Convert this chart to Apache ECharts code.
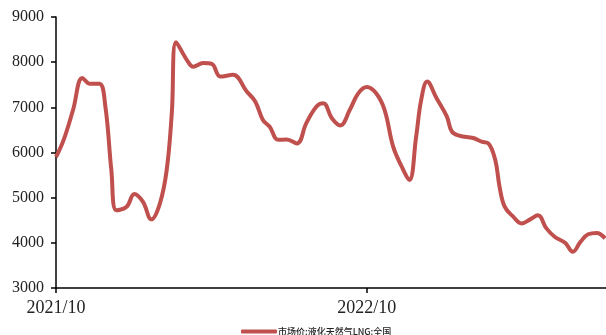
<!DOCTYPE html>
<html>
<head>
<meta charset="utf-8">
<script src="https://cdn.jsdelivr.net/npm/echarts@6/dist/echarts.min.js"></script>
<style>
  html, body { margin: 0; padding: 0; background: #fff; }
  #chart { width: 606px; height: 335px; }
</style>
</head>
<body>
<div id="chart"></div>
<script>
// LNG national market price (元/吨), observation dates and values
const dates = [
  '2021-10-01','2021-10-10','2021-10-21','2021-11-01','2021-11-10','2021-11-21','2021-11-28',
  '2021-12-05','2021-12-11','2021-12-23','2022-01-01','2022-01-11','2022-01-21','2022-01-31',
  '2022-02-08','2022-02-14','2022-02-19','2022-03-05','2022-03-11','2022-03-23','2022-04-02',
  '2022-04-12','2022-04-27','2022-05-13','2022-05-23','2022-06-01','2022-06-09','2022-06-19',
  '2022-06-29','2022-07-11','2022-07-22','2022-08-03','2022-08-11','2022-08-21','2022-08-31',
  '2022-09-11','2022-09-21','2022-10-01','2022-10-12','2022-10-22','2022-11-01','2022-11-11',
  '2022-11-20','2022-11-28','2022-12-04','2022-12-11','2022-12-22','2023-01-03','2023-01-09',
  '2023-01-18','2023-02-03','2023-02-13','2023-02-21','2023-03-01','2023-03-06','2023-03-12',
  '2023-03-22','2023-04-01','2023-04-11','2023-04-20','2023-04-30','2023-05-10','2023-05-22',
  '2023-05-31','2023-06-09','2023-06-18','2023-06-28','2023-07-08'
];
const prices = [
  5900, 6280, 6940, 7650, 7520, 7520, 7020,
  5610, 4720, 4800, 5080, 4910, 4520, 4870,
  5610, 6870, 8440, 8010, 7900, 7980, 7960,
  7680, 7720, 7350, 7130, 6720, 6570, 6280,
  6290, 6200, 6650, 7020, 7090, 6760, 6600,
  6940, 7310, 7450, 7310, 6940, 6130, 5690,
  5390, 6350, 7170, 7570, 7200, 6800, 6460,
  6370, 6320, 6240, 6200, 5830, 5240, 4800,
  4580, 4430, 4520, 4610, 4320, 4130, 4000,
  3800, 4020, 4190, 4220, 4100
];
const xStart = '2021-10-01';
const xEnd = '2023-07-09';
const xTickDates = ['2021-10-01', '2022-10-01'];
const seriesName = '市场价:液化天然气LNG:全国';

const toTime = s => { const p = s.split('-').map(Number); return new Date(p[0], p[1] - 1, p[2]).getTime(); };
const xTicks = xTickDates.map(toTime);

const chart = echarts.init(document.getElementById('chart'), null, { renderer: 'canvas' });
chart.setOption({
  animation: false,
  backgroundColor: '#ffffff',
  grid: { left: 56, right: 0, top: 17, bottom: 47, containLabel: false },
  xAxis: {
    type: 'value',
    min: toTime(xStart),
    max: toTime(xEnd),
    axisLine: { show: true, lineStyle: { color: '#000', width: 1.5 } },
    axisTick: { show: true, customValues: xTicks, length: 5, lineStyle: { color: '#000', width: 1.5 } },
    axisLabel: {
      customValues: xTicks,
      margin: 11,
      fontFamily: 'Liberation Serif',
      fontSize: 18,
      color: '#222',
      formatter: v => {
        const d = new Date(v);
        return d.getFullYear() + '/' + (d.getMonth() + 1);
      }
    },
    splitLine: { show: false }
  },
  yAxis: {
    type: 'value',
    min: 3000,
    max: 9000,
    interval: 1000,
    axisLine: { show: true, lineStyle: { color: '#000', width: 1.5 } },
    axisTick: { show: true, length: 5, lineStyle: { color: '#000', width: 1.5 } },
    axisLabel: {
      margin: 12,
      fontFamily: 'Liberation Serif',
      fontSize: 16,
      color: '#222',
      formatter: v => String(v)
    },
    splitLine: { show: false }
  },
  legend: {
    left: 236,
    top: 322,
    icon: 'roundRect',
    itemWidth: 36,
    itemHeight: 4,
    itemGap: 4,
    textStyle: { fontFamily: 'Noto Sans CJK SC', fontSize: 9, fontWeight: 500, color: '#222', padding: [0, 0, 0, -4] },
    data: [seriesName]
  },
  series: [{
    name: seriesName,
    type: 'line',
    data: dates.map((d, i) => [toTime(d), prices[i]]),
    smooth: 0.4,
    showSymbol: false,
    symbol: 'none',
    lineStyle: { color: '#c0504d', width: 4 },
    itemStyle: { color: '#c0504d' }
  }]
});
</script>
</body>
</html>
